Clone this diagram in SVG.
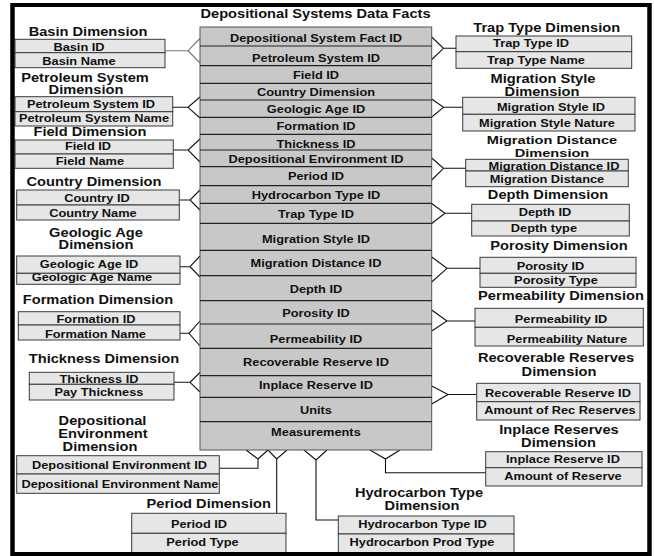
<svg xmlns="http://www.w3.org/2000/svg" width="654" height="556" viewBox="0 0 654 556">
<style>
text { font-family: "Liberation Sans", Arial, sans-serif; font-weight: bold; fill: #111; text-anchor: middle; transform-box: fill-box; transform-origin: center; transform: scaleX(1.22); }
.h { font-size: 12px; }
.hs { font-size: 11.5px; transform: scaleX(1.27); }
.r { font-size: 10.5px; }
.dim { fill: #e6e6e6; stroke: #3a3a3a; stroke-width: 1; }
.fact { fill: #c8c8c8; stroke: #555; stroke-width: 1; }
.sep { stroke: #222; stroke-width: 1.2; }
.con { fill: none; stroke: #111; stroke-width: 1.1; }
.con.g { stroke: #777; }
</style>
<rect x="0" y="0" width="654" height="556" fill="#fff"/>
<rect x="12.5" y="5" width="637" height="549" fill="#fff" stroke="#000" stroke-width="4"/>

<g id="connectors">
<path class="con g" d="M165,50.7 H188 M200,38.5 L188,50.7 L200,63"/>
<path class="con" d="M172.7,107.3 H188 M200,97 L188,107.3 L200,118"/>
<path class="con" d="M173.3,150 H188 M200,139 L188,150 L200,162"/>
<path class="con" d="M179.3,200 H190 M200,190 L190,200 L200,210"/>
<path class="con" d="M180,266.7 H190 M200,256 L190,266.7 L200,277"/>
<path class="con" d="M180,333.3 H189 M200,321 L189,333.3 L200,346"/>
<path class="con" d="M174,382.3 H190 M200,372.5 L190,382.3 L200,392"/>
<path class="con" d="M456,48.3 H443.5 M431.7,37 L443.5,48.3 L431.7,59.5"/>
<path class="con" d="M462.7,107.3 H443.5 M431.7,99 L443.5,107.3 L431.7,117"/>
<path class="con" d="M465.7,168.3 H443.5 M431.7,158 L443.5,168.3 L431.7,180"/>
<path class="con" d="M471.7,213.3 H445 M431.7,203.5 L445,213.3 L431.7,223.5"/>
<path class="con" d="M480,268.3 H447 M431.7,257 L447,268.3 L431.7,282"/>
<path class="con" d="M475,321 H447 M431.7,310 L447,321 L431.7,331"/>
<path class="con" d="M476.7,394.5 H448 M431.7,386 L448,394.5 L431.7,404"/>
<path class="con" d="M219.3,468.3 H258 V459 M246,450 L258,459 L268,450"/>
<path class="con" d="M276.7,513.3 V459 M268,450 L276.7,459 L287,450"/>
<path class="con" d="M338.3,520 H316 V460 M304,450 L316,460 L327,450"/>
<path class="con" d="M485.7,472.7 H385.5 V459 M370,450 L385.5,459 L400,450"/>
</g>

<g id="fact">
<text class="h" x="315.5" y="18.3">Depositional Systems Data Facts</text>
<rect class="fact" x="200" y="27" width="231.7" height="423"/>
<path class="sep" d="M200,46 H431.7 M200,65.7 H431.7 M200,83.3 H431.7 M200,100 H431.7 M200,117.3 H431.7 M200,134.3 H431.7 M200,150 H431.7 M200,166.7 H431.7 M200,185.7 H431.7 M200,203.3 H431.7 M200,223.3 H431.7 M200,250.3 H431.7 M200,275.7 H431.7 M200,300.7 H431.7 M200,324 H431.7 M200,348.3 H431.7 M200,375.7 H431.7 M200,397.3 H431.7 M200,421.7 H431.7"/>
<text class="r" x="316" y="41.8">Depositional System Fact ID</text>
<text class="r" x="316" y="61.8">Petroleum System ID</text>
<text class="r" x="316" y="78.8">Field ID</text>
<text class="r" x="316" y="95.8">Country Dimension</text>
<text class="r" x="316" y="112.8">Geologic Age ID</text>
<text class="r" x="316" y="130.3">Formation ID</text>
<text class="r" x="316" y="148">Thickness ID</text>
<text class="r" x="316" y="162.6">Depositional Environment ID</text>
<text class="r" x="316" y="179.8">Period ID</text>
<text class="r" x="316" y="198.6">Hydrocarbon Type ID</text>
<text class="r" x="316" y="217.8">Trap Type ID</text>
<text class="r" x="316" y="243">Migration Style ID</text>
<text class="r" x="316" y="267">Migration Distance ID</text>
<text class="r" x="316" y="293">Depth ID</text>
<text class="r" x="316" y="317">Porosity ID</text>
<text class="r" x="316" y="342.6">Permeability ID</text>
<text class="r" x="316" y="366">Recoverable Reserve ID</text>
<text class="r" x="316" y="388.8">Inplace Reserve ID</text>
<text class="r" x="316" y="414.5">Units</text>
<text class="r" x="316" y="436">Measurements</text>
</g>

<g id="basin">
<text class="h" x="88" y="36">Basin Dimension</text>
<rect class="dim" x="15" y="39.3" width="150" height="13.4"/>
<rect class="dim" x="15" y="52.7" width="150" height="15"/>
<text class="r" x="79" y="51.2">Basin ID</text>
<text class="r" x="79" y="65.5">Basin Name</text>
</g>

<g id="petroleum">
<text class="h" x="85" y="81.6">Petroleum System</text>
<text class="h" x="86" y="93.6">Dimension</text>
<rect class="dim" x="15" y="96.7" width="157.7" height="15"/>
<rect class="dim" x="15" y="111.7" width="157.7" height="14.3"/>
<text class="r" x="91" y="107.8">Petroleum System ID</text>
<text class="r" x="94" y="122.5">Petroleum System Name</text>
</g>

<g id="field">
<text class="h" x="90" y="136">Field Dimension</text>
<rect class="dim" x="15" y="140" width="158.3" height="14"/>
<rect class="dim" x="15" y="154" width="158.3" height="14.3"/>
<text class="r" x="88" y="150.5">Field ID</text>
<text class="r" x="90" y="165.5">Field Name</text>
</g>

<g id="country">
<text class="h" x="94" y="186">Country Dimension</text>
<rect class="dim" x="16.7" y="190" width="162.6" height="15"/>
<rect class="dim" x="16.7" y="205" width="162.6" height="15"/>
<text class="r" x="97" y="201.8">Country ID</text>
<text class="r" x="93" y="216.8">Country Name</text>
</g>

<g id="geologic">
<text class="h" x="96" y="236.7">Geologic Age</text>
<text class="h" x="96" y="249">Dimension</text>
<rect class="dim" x="16.7" y="256" width="163.3" height="17.3"/>
<rect class="dim" x="16.7" y="273.3" width="163.3" height="11"/>
<text class="r" x="89" y="268.5">Geologic Age ID</text>
<text class="r" x="92" y="281.5">Geologic Age Name</text>
</g>

<g id="formation">
<text class="h" x="98" y="304.3">Formation Dimension</text>
<rect class="dim" x="18.3" y="311.7" width="161.7" height="13.3"/>
<rect class="dim" x="18.3" y="325" width="161.7" height="15"/>
<text class="r" x="96" y="323.5">Formation ID</text>
<text class="r" x="95.5" y="338.5">Formation Name</text>
</g>

<g id="thickness">
<text class="h" x="104" y="362.7">Thickness Dimension</text>
<rect class="dim" x="29.3" y="372.3" width="144.7" height="12"/>
<rect class="dim" x="29.3" y="384.3" width="144.7" height="15.7"/>
<text class="r" x="99" y="383">Thickness ID</text>
<text class="r" x="99" y="396">Pay Thickness</text>
</g>

<g id="depenv">
<text class="h" x="102.5" y="425">Depositional</text>
<text class="h" x="103" y="438.3">Environment</text>
<text class="h" x="100" y="451">Dimension</text>
<rect class="dim" x="16.7" y="455.7" width="202.6" height="18.3"/>
<rect class="dim" x="16.7" y="474" width="202.6" height="19.3"/>
<text class="r" x="119.5" y="469.3">Depositional Environment ID</text>
<text class="r" x="120" y="488">Depositional Environment Name</text>
</g>

<g id="period">
<text class="h" x="208.7" y="508.3">Period Dimension</text>
<rect class="dim" x="131.7" y="513.3" width="154.3" height="20"/>
<rect class="dim" x="131.7" y="533.3" width="154.3" height="20"/>
<text class="r" x="199" y="527.7">Period ID</text>
<text class="r" x="202.5" y="546">Period Type</text>
</g>

<g id="trap">
<text class="h" x="546.7" y="31.7">Trap Type Dimension</text>
<rect class="dim" x="456" y="36" width="175.7" height="15.7"/>
<rect class="dim" x="456" y="51.7" width="175.7" height="16.6"/>
<text class="r" x="531" y="47">Trap Type ID</text>
<text class="r" x="536" y="64">Trap Type Name</text>
</g>

<g id="migstyle">
<text class="h" x="543" y="83.3">Migration Style</text>
<text class="h" x="542" y="95.7">Dimension</text>
<rect class="dim" x="462.7" y="97.3" width="172.3" height="17"/>
<rect class="dim" x="462.7" y="114.3" width="172.3" height="16.7"/>
<text class="r" x="551" y="111">Migration Style ID</text>
<text class="r" x="547" y="127">Migration Style Nature</text>
</g>

<g id="migdist">
<text class="hs" x="552" y="144">Migration Distance</text>
<text class="hs" x="552" y="157">Dimension</text>
<rect class="dim" x="465.7" y="159.3" width="162.6" height="11.7"/>
<rect class="dim" x="465.7" y="171" width="162.6" height="15.7"/>
<text class="r" x="554" y="169.8">Migration Distance ID</text>
<text class="r" x="547" y="183.5">Migration Distance</text>
</g>

<g id="depth">
<text class="h" x="548" y="199">Depth Dimension</text>
<rect class="dim" x="471.7" y="204.3" width="157.6" height="16.7"/>
<rect class="dim" x="471.7" y="221" width="157.6" height="15"/>
<text class="r" x="545" y="216.3">Depth ID</text>
<text class="r" x="544" y="231.8">Depth type</text>
</g>

<g id="porosity">
<text class="h" x="559" y="250">Porosity Dimension</text>
<rect class="dim" x="480" y="257.3" width="156" height="16"/>
<rect class="dim" x="480" y="273.3" width="156" height="14"/>
<text class="r" x="550.5" y="270.3">Porosity ID</text>
<text class="r" x="556" y="284">Porosity Type</text>
</g>

<g id="permeability">
<text class="h" x="561" y="300">Permeability Dimension</text>
<rect class="dim" x="475" y="308.3" width="168.3" height="19"/>
<rect class="dim" x="475" y="327.3" width="168.3" height="18.7"/>
<text class="r" x="561" y="323">Permeability ID</text>
<text class="r" x="567" y="343.5">Permeability Nature</text>
</g>

<g id="recoverable">
<text class="h" x="556" y="362.3">Recoverable Reserves</text>
<text class="h" x="559" y="375.7">Dimension</text>
<rect class="dim" x="476.7" y="383.3" width="163.3" height="18.4"/>
<rect class="dim" x="476.7" y="401.7" width="163.3" height="18.3"/>
<text class="r" x="558" y="397.5">Recoverable Reserve ID</text>
<text class="r" x="560" y="414">Amount of Rec Reserves</text>
</g>

<g id="inplace">
<text class="h" x="559" y="434">Inplace Reserves</text>
<text class="h" x="558.5" y="446.7">Dimension</text>
<rect class="dim" x="485.7" y="451.7" width="156.3" height="16"/>
<rect class="dim" x="485.7" y="467.7" width="156.3" height="18.3"/>
<text class="r" x="563" y="463.5">Inplace Reserve ID</text>
<text class="r" x="563" y="480.5">Amount of Reserve</text>
</g>

<g id="hydrocarbon">
<text class="h" x="419" y="497.5">Hydrocarbon Type</text>
<text class="h" x="422" y="510">Dimension</text>
<rect class="dim" x="338.3" y="516" width="175.7" height="18"/>
<rect class="dim" x="338.3" y="534" width="175.7" height="19"/>
<text class="r" x="422.5" y="528">Hydrocarbon Type ID</text>
<text class="r" x="422" y="546">Hydrocarbon Prod Type</text>
</g>

<rect x="12.5" y="5" width="637" height="549" fill="none" stroke="#000" stroke-width="4"/>
</svg>
